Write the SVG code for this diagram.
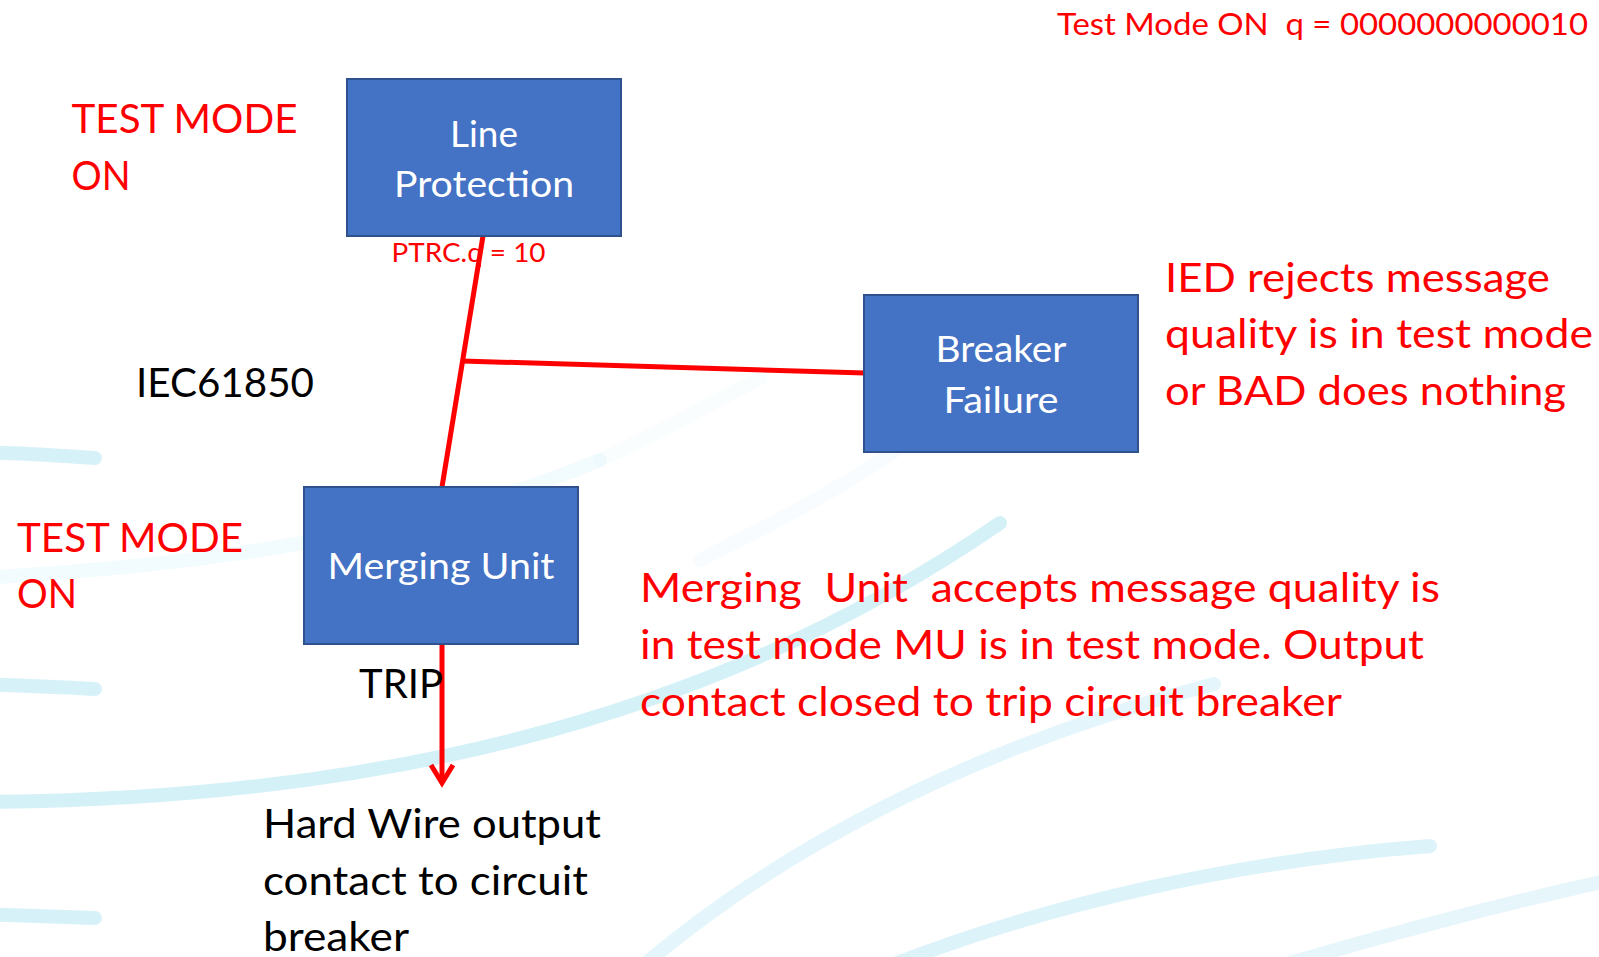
<svg xmlns="http://www.w3.org/2000/svg" width="1599" height="957" viewBox="0 0 1599 957">
  <defs>
    <style>
      .bg { fill: none; stroke: #cdeef7; stroke-width: 14; stroke-linecap: round; }
      .node rect { fill: #4472c4; stroke: #2f528f; stroke-width: 2; }
      .node text { fill: #ffffff; font-family: Lato, "Open Sans", sans-serif; font-size: 36px; text-anchor: middle; }
      .wire { fill: none; stroke: #ff0000; stroke-width: 5; }
      .note { fill: #ff0000; font-family: Lato, "Open Sans", sans-serif; font-size: 40px; white-space: pre; }
      .small { font-size: 26.5px; }
      .header { font-size: 31px; }
      .plain { fill: #000000; font-family: Lato, "Open Sans", sans-serif; font-size: 40px; }
    </style>
  </defs>

  <rect x="0" y="0" width="1599" height="957" fill="#ffffff"/>

  <!-- decorative background swooshes -->
  <g id="background">
    <path class="bg" opacity="0.8" d="M -20 452 Q 40 454 95 458"/>
    <path class="bg" opacity="0.8" d="M -20 684 Q 40 686 95 689"/>
    <path class="bg" opacity="0.8" d="M -20 914 Q 40 916 95 918"/>
    <path class="bg" opacity="0.25" d="M -20 578 C 200 566 420 535 600 460"/>
    <path class="bg" opacity="0.12" d="M 600 460 C 660 432 710 405 760 378"/>
    <path class="bg" opacity="0.15" d="M 700 560 C 760 530 840 490 900 447"/>
    <path class="bg" opacity="0.85" d="M -20 802 C 350 800 700 730 1000 523"/>
    <path class="bg" opacity="0.55" d="M 632 975 C 800 830 1000 740 1214 684"/>
    <path class="bg" opacity="0.7" d="M 867 975 C 1050 900 1250 860 1430 846"/>
    <path class="bg" opacity="0.5" d="M 1250 975 C 1400 930 1520 900 1610 880"/>
  </g>

  <!-- connectors -->
  <g id="connectors">
    <line class="wire" x1="483" y1="236" x2="442" y2="487"/>
    <line class="wire" x1="462" y1="361" x2="865" y2="373"/>
    <line class="wire" stroke-width="4" x1="442" y1="644" x2="442" y2="782"/>
    <polyline class="wire" stroke-width="4" points="431,765 442,783 453,765"/>
  </g>

  <g id="line-protection" class="node">
    <rect x="347" y="79" width="274" height="157"/>
    <text x="484" y="147" textLength="68" lengthAdjust="spacingAndGlyphs">Line</text>
    <text x="484" y="197" textLength="180" lengthAdjust="spacingAndGlyphs">Protection</text>
  </g>

  <g id="breaker-failure" class="node">
    <rect x="864" y="295" width="274" height="157"/>
    <text x="1001" y="362" textLength="131" lengthAdjust="spacingAndGlyphs">Breaker</text>
    <text x="1001" y="413" textLength="115" lengthAdjust="spacingAndGlyphs">Failure</text>
  </g>

  <g id="merging-unit" class="node">
    <rect x="304" y="487" width="274" height="157"/>
    <text x="441" y="579" textLength="227" lengthAdjust="spacingAndGlyphs">Merging Unit</text>
  </g>

  <!-- labels -->
  <g id="labels">
    <text class="note header" x="1057" y="35" textLength="531" lengthAdjust="spacingAndGlyphs">Test Mode ON  q = 0000000000010</text>
    <text class="note" x="71.5" y="133" textLength="226" lengthAdjust="spacingAndGlyphs">TEST MODE</text>
    <text class="note" x="71.5" y="190" textLength="59" lengthAdjust="spacingAndGlyphs">ON</text>
    <text class="note small" x="391.5" y="262" textLength="154" lengthAdjust="spacingAndGlyphs">PTRC.q = 10</text>
    <text class="plain" x="136" y="397" textLength="178" lengthAdjust="spacingAndGlyphs">IEC61850</text>
    <text class="note" x="17" y="552" textLength="226" lengthAdjust="spacingAndGlyphs">TEST MODE</text>
    <text class="note" x="17" y="608" textLength="60" lengthAdjust="spacingAndGlyphs">ON</text>
    <text class="plain" x="359" y="698" textLength="84" lengthAdjust="spacingAndGlyphs">TRIP</text>
    <text class="note" x="1165" y="292" textLength="385" lengthAdjust="spacingAndGlyphs">IED rejects message</text>
    <text class="note" x="1165" y="348" textLength="428" lengthAdjust="spacingAndGlyphs">quality is in test mode</text>
    <text class="note" x="1165" y="405" textLength="401" lengthAdjust="spacingAndGlyphs">or BAD does nothing</text>
    <text class="note" x="640" y="602" textLength="800" lengthAdjust="spacingAndGlyphs">Merging  Unit  accepts message quality is</text>
    <text class="note" x="640" y="659" textLength="784" lengthAdjust="spacingAndGlyphs">in test mode MU is in test mode. Output</text>
    <text class="note" x="640" y="716" textLength="702" lengthAdjust="spacingAndGlyphs">contact closed to trip circuit breaker</text>
    <text class="plain" x="263" y="838" textLength="338" lengthAdjust="spacingAndGlyphs">Hard Wire output</text>
    <text class="plain" x="263" y="895" textLength="325" lengthAdjust="spacingAndGlyphs">contact to circuit</text>
    <text class="plain" x="263" y="951" textLength="146" lengthAdjust="spacingAndGlyphs">breaker</text>
  </g>
</svg>
